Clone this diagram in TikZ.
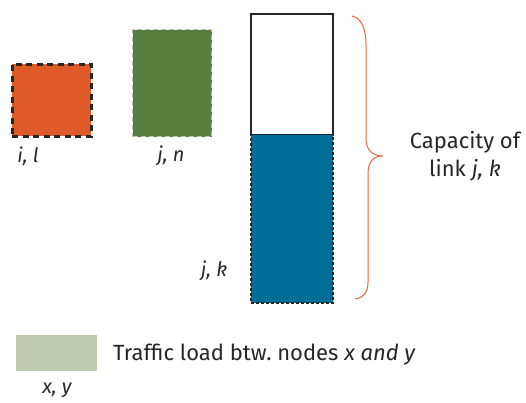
\documentclass[tikz,border=0pt]{standalone}
\usepackage{fontspec}
\setmainfont{Fira Sans}
\definecolor{cOrange}{HTML}{E05A28}
\definecolor{cGreen}{HTML}{5A7D40}
\definecolor{cBlue}{HTML}{006E96}
\definecolor{cLoad}{HTML}{C0CAAF}
\definecolor{cBrace}{HTML}{E8643C}
\definecolor{cDash}{HTML}{B8BFB0}
\begin{document}
\begin{tikzpicture}[x=1pt,y=-1pt,
  box/.style={rectangle,inner sep=0pt,anchor=north west},
  lbl/.style={font=\fontsize{20}{24}\selectfont\itshape,inner sep=0pt,text=black!85},
  txt/.style={font=\fontsize{22}{28}\selectfont,inner sep=0pt,text=black!85}]
\useasboundingbox (0,0) rectangle (526,403);
% node boxes
\node[box,fill=cOrange,draw=black!85,line width=2.8pt,dash pattern=on 6pt off 4.5pt,
  minimum width=79pt,minimum height=72pt] (il) at (11,63) {};
\node[box,fill=cGreen,draw=cDash,line width=1.4pt,dash pattern=on 5pt off 3pt,
  minimum width=79pt,minimum height=107pt] (jn) at (132,29) {};
% link capacity: free part and used part
\node[box,fill=white,draw=black!85,line width=1.8pt,
  minimum width=82pt,minimum height=121pt] (free) at (250,13) {};
\node[box,fill=cBlue,draw=black!85,line width=1.5pt,dash pattern=on 3pt off 2pt,
  minimum width=82pt,minimum height=168pt] (used) at (250,134) {};
% labels
\node[lbl] (lil) at (28,156) {i, l};
\node[lbl] (ljn) at (171,156) {j, n};
\node[lbl] (ljk) at (214,271) {j, k};
% brace
\coordinate (btop) at (352,16);
\coordinate (btip) at (383,156);
\coordinate (bbot) at (355,299);
\draw[cBrace,line width=1pt] (btop) .. controls (362,18) and (366,30) .. (366,45)
  -- (366,138) .. controls (366,150) and (372,156) .. (btip)
  .. controls (373,156) and (368,162) .. (368,174)
  -- (368,282) .. controls (368,293) and (363,298) .. (bbot);
\node[txt,align=center] (cap) at (465,156) {Capacity of\\link \textit{j, k}};
% legend
\node[box,fill=cLoad,minimum width=81pt,minimum height=36pt] (load) at (16,335) {};
\node[txt,anchor=west] (loadtxt) at (113,355) {Traffic load btw.\ nodes \textit{x and y}};
\node[lbl] (lxy) at (57,390) {x, y};
\end{tikzpicture}
\end{document}
